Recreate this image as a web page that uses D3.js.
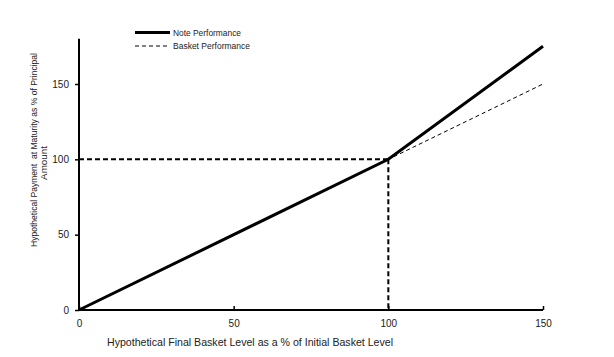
<!DOCTYPE html>
<html><head><meta charset="utf-8">
<script src="https://cdn.jsdelivr.net/npm/d3@7"></script>
<style>body{margin:0;background:#fff}svg{display:block}text{font-family:"Liberation Sans",Arial,sans-serif;fill:#222}</style>
</head><body><svg id="c" width="614" height="357"></svg>
<script>
const basketLevels = [0, 100, 150];
const notePayment = [0, 100, 175];
const basketPayment = [0, 100, 150];
const xTicks = [0, 50, 100, 150];
const yTicks = [0, 50, 100, 150];
const strikeLevel = 100;
const seriesNames = ["Note Performance", "Basket Performance"];

const svg = d3.select("#c");
const x = d3.scaleLinear().domain([0, 150]).range([79, 543]);
const y = d3.scaleLinear().domain([0, 180]).range([310, 38.8]);

// reference dashed lines
svg.append("line").attr("x1", x(0)).attr("x2", x(strikeLevel)).attr("y1", y(strikeLevel)).attr("y2", y(strikeLevel))
  .attr("stroke", "#000").attr("stroke-width", 2).attr("stroke-dasharray", "5,3");
svg.append("line").attr("x1", x(strikeLevel)).attr("x2", x(strikeLevel)).attr("y1", y(strikeLevel)).attr("y2", y(0))
  .attr("stroke", "#000").attr("stroke-width", 2).attr("stroke-dasharray", "5,3");

const line = d3.line().x((d, i) => x(basketLevels[i])).y(d => y(d));
svg.append("path").attr("d", line(basketPayment)).attr("fill", "none").attr("stroke", "#000")
  .attr("stroke-width", 1).attr("stroke-dasharray", "4,3");
svg.append("path").attr("d", line(notePayment)).attr("fill", "none").attr("stroke", "#000")
  .attr("stroke-width", 3);

// axes
const yAxis = svg.append("g").attr("transform", "translate(79,0)")
  .call(d3.axisLeft(y).tickValues(yTicks).tickSize(4).tickSizeOuter(0).tickPadding(6));
yAxis.select(".domain").remove();
yAxis.append("line").attr("x1", 0).attr("x2", 0).attr("y1", y(180)).attr("y2", y(0)).attr("stroke", "#000").attr("stroke-width", 2);
yAxis.selectAll(".tick line").attr("stroke", "#000").attr("stroke-width", 1.5);
yAxis.selectAll("text").attr("font-size", 10).attr("fill", "#222").attr("font-family", "Liberation Sans, Arial");

const xAxis = svg.append("g").attr("transform", "translate(0,310)")
  .call(d3.axisBottom(x).tickValues(xTicks).tickSize(-4).tickSizeOuter(0).tickPadding(10));
xAxis.select(".domain").remove();
xAxis.append("line").attr("x1", x(0)).attr("x2", x(150)).attr("y1", 0).attr("y2", 0).attr("stroke", "#000").attr("stroke-width", 2);
xAxis.selectAll(".tick line").attr("stroke", "#000").attr("stroke-width", 1.5);
xAxis.selectAll("text").attr("font-size", 10).attr("fill", "#222").attr("font-family", "Liberation Sans, Arial");

// axis titles
svg.append("text").attr("x", 250).attr("y", 346).attr("text-anchor", "middle").attr("font-size", 11)
  .attr("textLength", 286).attr("lengthAdjust", "spacingAndGlyphs")
  .text("Hypothetical Final Basket Level as a % of Initial Basket Level");
svg.append("text").attr("transform", "translate(37,150) rotate(-90)").attr("text-anchor", "middle").attr("font-size", 9.8)
  .attr("textLength", 194).attr("lengthAdjust", "spacingAndGlyphs")
  .attr("xml:space", "preserve").text("Hypothetical Payment  at Maturity as % of Principal");
svg.append("text").attr("transform", "translate(47,163) rotate(-90)").attr("text-anchor", "middle").attr("font-size", 9.8)
  .text("Amount");

// legend
const leg = svg.append("g");
leg.append("line").attr("x1", 135).attr("x2", 170).attr("y1", 32.5).attr("y2", 32.5).attr("stroke", "#000").attr("stroke-width", 3);
leg.append("text").attr("x", 173).attr("y", 35.5).attr("font-size", 8.5).attr("textLength", 68).attr("lengthAdjust", "spacingAndGlyphs").text(seriesNames[0]);
leg.append("line").attr("x1", 135).attr("x2", 170).attr("y1", 46).attr("y2", 46).attr("stroke", "#000").attr("stroke-width", 1).attr("stroke-dasharray", "4,3");
leg.append("text").attr("x", 173).attr("y", 49).attr("font-size", 8.5).attr("textLength", 77).attr("lengthAdjust", "spacingAndGlyphs").text(seriesNames[1]);
</script></body></html>
